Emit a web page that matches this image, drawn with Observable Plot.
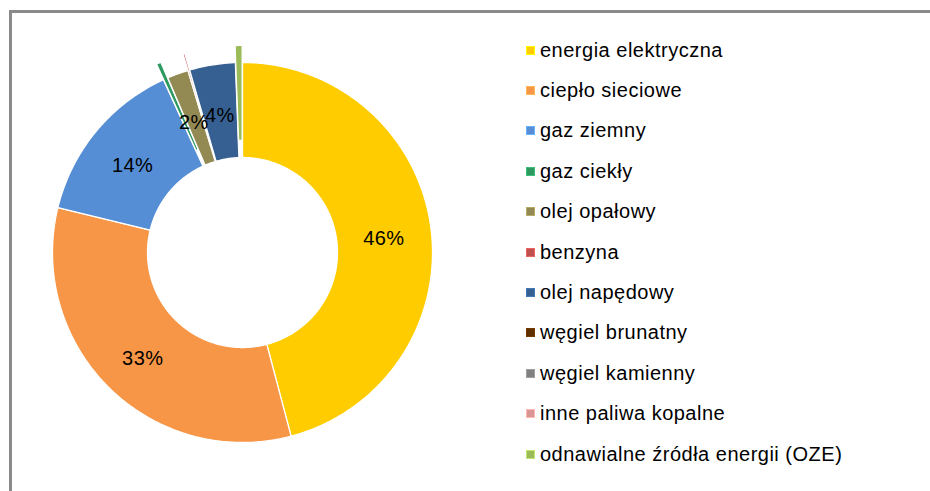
<!DOCTYPE html>
<html>
<head>
<meta charset="utf-8">
<script src="https://cdn.jsdelivr.net/npm/d3@7"></script>
<script src="https://cdn.jsdelivr.net/npm/@observablehq/plot@0.6"></script>
<style>
  html, body { margin: 0; padding: 0; background: #ffffff; }
  #wrap { position: relative; width: 930px; height: 491px; overflow: hidden; background: #fff; }
  #frame { position: absolute; left: 9px; top: 10px; width: 940px; height: 500px;
           border-top: 3px solid #8a8a8a; border-left: 3px solid #8a8a8a; }
  #chart { position: absolute; left: 0; top: 0; }
  #chart svg text { letter-spacing: 0.4px; }
  #legend { position: absolute; left: 526px; top: 0; font-family: "Liberation Sans", Arial, sans-serif;
            font-size: 20px; color: #000; letter-spacing: 0.5px; }
  .row { position: absolute; left: 0; height: 24px; white-space: nowrap; display: flex; align-items: center; }
  .sw { width: 9px; height: 9px; margin-right: 5px; box-sizing: border-box; }
</style>
</head>
<body>
<div id="wrap">
  <div id="frame"></div>
  <div id="chart"></div>
  <div id="legend"></div>
</div>
<script>
// ---- data ----
const categories = [
  "energia elektryczna",
  "ciepło sieciowe",
  "gaz ziemny",
  "gaz ciekły",
  "olej opałowy",
  "benzyna",
  "olej napędowy",
  "węgiel brunatny",
  "węgiel kamienny",
  "inne paliwa kopalne",
  "odnawialne źródła energii (OZE)"
];
const values = [46, 33, 14.4, 0.4, 1.8, 0.15, 3.9, 0, 0, 0, 0.6];
const labels = ["46%", "33%", "14%", "", "2%", "", "4%", "", "", "", ""];
const colors = ["#FFCC00", "#F79646", "#558ED5", "#2E9A62", "#938953", "#C0504D",
                "#376092", "#5E3000", "#808080", "#D99694", "#9BBB59"];
const explodedNames = ["gaz ciekły", "benzyna", "odnawialne źródła energii (OZE)"];

// ---- geometry (unit circle: outer radius 1) ----
const R_OUT = 1, R_IN = 0.5, EXPLODE = 0.09;
const table = categories.map((name, i) => ({name, value: values[i], label: labels[i]}));
const arcs = d3.pie().sort(null).value(d => d.value).startAngle(0).endAngle(2 * Math.PI)(table);

const polyPoints = [];
const labelPoints = [];
for (const a of arcs) {
  if (a.data.value <= 0) continue;
  const mid = (a.startAngle + a.endAngle) / 2;
  const off = explodedNames.includes(a.data.name) ? EXPLODE : 0;
  const ox = off * Math.sin(mid), oy = off * Math.cos(mid);
  const n = Math.max(2, Math.ceil((a.endAngle - a.startAngle) / 0.01));
  const pts = [];
  for (let k = 0; k <= n; k++) {
    const t = a.startAngle + (a.endAngle - a.startAngle) * k / n;
    pts.push({x: ox + R_OUT * Math.sin(t), y: oy + R_OUT * Math.cos(t)});
  }
  for (let k = n; k >= 0; k--) {
    const t = a.startAngle + (a.endAngle - a.startAngle) * k / n;
    pts.push({x: ox + R_IN * Math.sin(t), y: oy + R_IN * Math.cos(t)});
  }
  pts.push({...pts[0]});
  pts.forEach(p => polyPoints.push({...p, name: a.data.name}));
  if (a.data.label) {
    const rm = (R_OUT + R_IN) / 2;
    labelPoints.push({x: ox + rm * Math.sin(mid), y: oy + rm * Math.cos(mid), label: a.data.label});
  }
}

// center at (242,252) px, outer radius 190 px
const W = 500, H = 491, CX = 242, CY = 252, RP = 190;
const chart = Plot.plot({
  width: W, height: H, margin: 0,
  style: {background: "transparent", fontFamily: "Liberation Sans, Arial, sans-serif"},
  x: {domain: [(0 - CX) / RP, (W - CX) / RP], axis: null},
  y: {domain: [(CY - H) / RP, CY / RP], axis: null},
  color: {domain: categories, range: colors},
  marks: [
    Plot.line(polyPoints, {x: "x", y: "y", z: "name", fill: "name", stroke: "white", strokeWidth: 1.3, curve: "linear"}),
    Plot.text(labelPoints, {x: "x", y: "y", text: "label", fontSize: 20, fill: "black", dy: 4})
  ]
});
document.getElementById("chart").appendChild(chart);

// ---- legend ----
const legend = document.getElementById("legend");
categories.forEach((name, i) => {
  const row = document.createElement("div");
  row.className = "row";
  row.style.top = (50 + i * 40.4 - 12) + "px";
  const sw = document.createElement("span");
  sw.className = "sw";
  sw.style.background = colors[i];
  sw.style.border = "1px solid " + d3.color(colors[i]).brighter(0.6).formatHex();
  const tx = document.createElement("span");
  tx.textContent = name;
  row.appendChild(sw);
  row.appendChild(tx);
  legend.appendChild(row);
});
</script>
</body>
</html>
